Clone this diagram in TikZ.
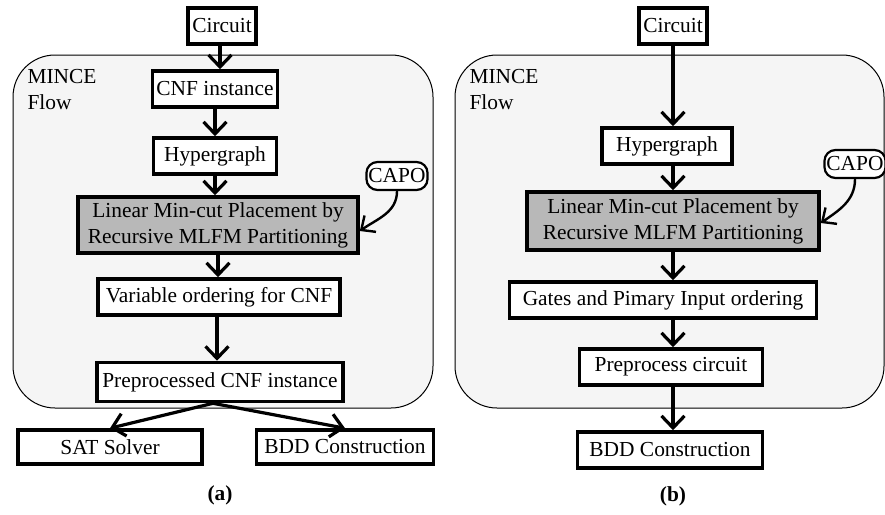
\documentclass[tikz,border=0pt]{standalone}
\usepackage{fontspec}
\setmainfont{Liberation Serif}
\usepackage{tikz}
\usetikzlibrary{arrows,arrows.meta,shapes,positioning}
\newcommand{\boxs}{3.6pt}
\newcommand{\arrs}{3.2pt}
\definecolor{panelgray}{RGB}{245,245,245}
\definecolor{placegray}{RGB}{184,184,184}

\begin{document}
\begin{tikzpicture}[x=1pt,y=-1pt,
    font=\rmfamily\fontsize{21.4}{26}\selectfont,
    flowbox/.style={draw, line width=\boxs, fill=white, inner xsep=4pt, inner ysep=2pt, minimum height=36pt},
    placebox/.style={flowbox, fill=placegray, align=center, minimum height=56pt},
    toolbox/.style={draw, line width=2.2pt, fill=white, rounded corners=11pt, inner xsep=2pt, inner ysep=1pt, minimum height=28pt},
    panel/.style={draw, line width=1pt, fill=panelgray, rounded corners=42pt},
    arr/.style={line width=\arrs, -{Straight Barb[length=12pt,width=23pt]}},
    capoarr/.style={line width=2.4pt, -{Straight Barb[length=11pt,width=20pt]}}]
    \useasboundingbox (0,0) rectangle (885,514);
    %\draw[help lines] (0,0) grid[step=50] (885,514);
    \begin{scope}[shift={(0,0)}]
        \draw[panel] (13,55) rectangle (433,408);
        \node[anchor=north west, align=left] (minca) at (24,66) {MINCE\\Flow};
        \node[flowbox] (circa) at (222,26) {Circuit};
        \node[flowbox, minimum width=124pt] (cnfa) at (215,89) {CNF instance};
        \node[flowbox, minimum width=123pt] (hypa) at (215,156) {Hypergraph};
        \node[placebox, minimum width=280pt] (lina) at (218,225) {Linear Min-cut Placement by\\Recursive MLFM Partitioning};
        \node[toolbox] (capoa) at (397,176) {CAPO};
        \node[flowbox, minimum width=242pt] (vara) at (219,297) {Variable ordering for CNF};
        \node[flowbox, minimum width=246pt, minimum height=39pt] (prea) at (220,382) {Preprocessed CNF instance};
        \node[flowbox, minimum width=184pt, minimum height=34pt] (sata) at (110,447) {SAT Solver};
        \node[flowbox, minimum width=177pt, minimum height=34pt] (bdda) at (345,447) {BDD Construction};
        \node[font=\rmfamily\fontsize{21.4}{26}\selectfont\bfseries] (laba) at (220,495) {(a)};
        \draw[arr] ([xshift=-2pt]circa.south) -- ([xshift=-2pt]circa.south |- cnfa.north);
        \draw[arr] (cnfa) -- (hypa);
        \draw[arr] (hypa) -- (hypa |- lina.north);
        \draw[arr] (lina) -- (lina |- vara.north);
        \draw[arr] ([xshift=-2pt]vara.south) -- ([xshift=-2pt]vara.south |- prea.north);
        \draw[capoarr] (capoa.south) to[out=-90, in=35] ([yshift=-6pt]lina.east);
        \draw[arr] ([xshift=-7pt]prea.south) -- (sata.north);
        \draw[arr] ([xshift=-7pt]prea.south) -- (bdda.north);
    \end{scope}
    \begin{scope}[shift={(442,0)}]
        \draw[panel] (13,55) rectangle (442,408);
        \node[anchor=north west, align=left] (mincb) at (24,66) {MINCE\\Flow};
        \node[flowbox] (circb) at (231,26) {Circuit};
        \node[flowbox, minimum width=130pt] (hypb) at (225,146) {Hypergraph};
        \node[placebox, minimum width=292pt, minimum height=58pt] (linb) at (231,221) {Linear Min-cut Placement by\\Recursive MLFM Partitioning};
        \node[toolbox] (capob) at (413,164) {CAPO};
        \node[flowbox, minimum width=307pt] (gateb) at (221,300) {Gates and Pimary Input ordering};
        \node[flowbox, minimum width=183pt] (procb) at (229,367) {Preprocess circuit};
        \node[flowbox, minimum width=185pt] (bddb) at (228,450) {BDD Construction};
        \node[font=\rmfamily\fontsize{21.4}{26}\selectfont\bfseries] (labb) at (231,496) {(b)};
        \draw[arr] (circb.south) -- (circb.south |- hypb.north);
        \draw[arr] (circb.south |- hypb.south) -- (circb.south |- linb.north);
        \draw[arr] (circb.south |- linb.south) -- (circb.south |- gateb.north);
        \draw[arr] (circb.south |- gateb.south) -- (circb.south |- procb.north);
        \draw[arr] (circb.south |- procb.south) -- (circb.south |- bddb.north);
        \draw[capoarr] (capob.south) to[out=-90, in=35] ([yshift=-2pt]linb.east);
    \end{scope}
\end{tikzpicture}
\end{document}
